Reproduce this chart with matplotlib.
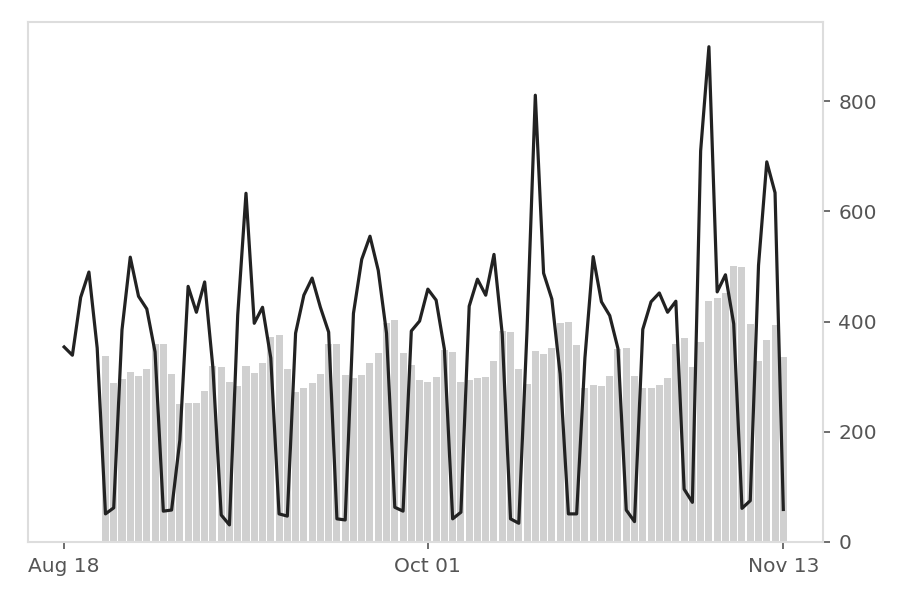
import numpy as np
import pandas as pd
import matplotlib
matplotlib.use("Agg")
import matplotlib.pyplot as plt
import matplotlib.dates as mdates

# daily series, Aug 18 -> Nov 13
dates = pd.date_range("2019-08-18", "2019-11-13", freq="D")

line_vals = [354, 339, 444, 490, 352, 51, 62, 385, 517, 446,
             423, 345, 56, 58, 185, 464, 417, 472, 316, 49,
             31, 412, 633, 397, 426, 334, 51, 47, 379, 448,
             479, 426, 381, 42, 40, 415, 513, 555, 493, 379,
             63, 56, 383, 401, 459, 439, 350, 42, 54, 428,
             477, 448, 522, 377, 42, 34, 385, 811, 488, 441,
             305, 51, 51, 334, 518, 436, 411, 351, 58, 37,
             386, 436, 452, 417, 437, 96, 72, 710, 899, 454,
             485, 396, 61, 75, 502, 690, 634, 59]

# bars begin on day 5 (Aug 23)
bar_start = 5
bar_vals = [337, 288, 296, 308, 302, 314, 359, 359, 305, 250,
            252, 252, 274, 319, 317, 291, 283, 319, 307, 325,
            372, 375, 314, 273, 279, 289, 305, 360, 360, 303,
            298, 303, 325, 343, 398, 403, 343, 321, 294, 291,
            300, 349, 345, 291, 294, 298, 300, 329, 383, 381,
            314, 287, 347, 342, 352, 398, 400, 358, 280, 285,
            283, 302, 351, 352, 302, 279, 279, 285, 298, 359,
            371, 318, 363, 438, 443, 452, 501, 499, 395, 329,
            367, 393, 336]

tick_dates = ["2019-08-18", "2019-10-01", "2019-11-13"]

fig = plt.figure(figsize=(9, 6), dpi=100)
ax = fig.add_axes([0.0311, 0.0967, 0.8833, 0.8667])

ax.bar(dates[bar_start:], bar_vals, width=0.85, color="#d0d0d0", zorder=1)
ax.plot(dates, line_vals, color="#222222", lw=2.3, zorder=2)

ax.set_ylim(0, max(line_vals) * 1.05)
ax.set_yticks([0, 200, 400, 600, 800])
ax.yaxis.tick_right()
ax.set_xticks(pd.to_datetime(tick_dates))
ax.xaxis.set_major_formatter(mdates.DateFormatter("%b %d"))

for s in ax.spines.values():
    s.set_color("#dddddd")
    s.set_linewidth(1.5)
ax.tick_params(colors="#555555", labelsize=14.5, length=5, width=1.2)
ax.tick_params(axis="y", pad=6)
ax.tick_params(axis="x", pad=6)

fig.savefig("out.png", dpi=100)
